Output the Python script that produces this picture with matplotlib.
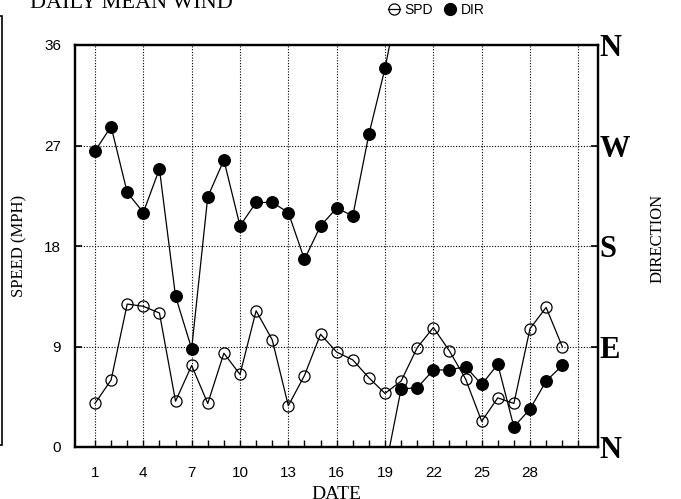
import numpy as np
import matplotlib
matplotlib.use("Agg")
import matplotlib.pyplot as plt
from matplotlib.lines import Line2D
from matplotlib.patches import Rectangle

# ── Dados ─────────────────────────────────────────────────────────────────────
days = list(range(1, 31))
speed_mph = [3.9, 6.0, 12.8, 12.6, 12.0, 4.1, 7.3, 3.9, 8.4, 6.5,
             12.2, 9.6, 3.7, 6.4, 10.1, 8.5, 7.8, 6.2, 4.8, 5.9,
             8.9, 10.7, 8.6, 6.1, 2.3, 4.4, 3.9, 10.6, 12.5, 9.0]
# direção em graus / 10 (0 = N, 9 = E, 18 = S, 27 = W, 36 = N)
direction = [26.5, 28.7, 22.8, 21.0, 24.9, 13.5, 8.8, 22.4, 25.7, 19.8,
             21.9, 21.9, 21.0, 16.8, 19.8, 21.4, 20.7, 28.0, 33.9, 5.2,
             5.3, 6.9, 6.9, 7.2, 5.6, 7.4, 1.8, 3.4, 5.9, 7.3]

xtick_days = [1, 4, 7, 10, 13, 16, 19, 22, 25, 28]
grid_days = xtick_days + [31]
ytick_vals = [0, 9, 18, 27, 36]
dir_labels = ["N", "E", "S", "W", "N"]

W, H = 681, 499
SERIF = "Liberation Serif"
SANS = "Liberation Sans"


def wrapped_path(x, y, period=36.0):
    """Quebra a linha de direção quando cruza N (volta de 360°)."""
    xs, ys = [x[0]], [y[0]]
    for i in range(1, len(x)):
        d = y[i] - y[i - 1]
        if abs(d) > period / 2:
            shift = -period if d > 0 else period
            xs += [x[i], np.nan, x[i - 1]]
            ys += [y[i] + shift, np.nan, y[i - 1] - shift]
        xs.append(x[i])
        ys.append(y[i])
    return xs, ys


fig = plt.figure(figsize=(W / 100, H / 100), dpi=100)
fig.patch.set_facecolor("white")
ax = fig.add_axes([75 / W, 1 - 447 / H, (598 - 75) / W, (447 - 45) / H])

ax.set_xlim(-0.24, 32.22)
ax.set_ylim(0, 36)

# grade pontilhada
for d in grid_days:
    ax.axvline(d, color="black", linestyle=(0, (1, 1.5)), linewidth=0.8, zorder=1)
for v in ytick_vals[1:-1]:
    ax.axhline(v, color="black", linestyle=(0, (1, 1.5)), linewidth=0.8, zorder=1)

# velocidade
ax.plot(days, speed_mph, color="black", linewidth=0.9, zorder=3,
        marker="o", markersize=8, markerfacecolor="none",
        markeredgecolor="black", markeredgewidth=0.9)

# direção (com quebra em N)
xs, ys = wrapped_path(days, direction)
ax.plot(xs, ys, color="black", linewidth=0.9, zorder=4)
ax.plot(days, direction, linestyle="none", marker="o", markersize=8.3,
        color="black", zorder=5)

for s in ax.spines.values():
    s.set_linewidth(1.6)

ax.set_xticks(xtick_days)
ax.set_xticks(range(1, 32), minor=True)
ax.set_yticks(ytick_vals)
ax.tick_params(axis="x", which="both", direction="in", length=5, width=1,
               pad=14, labelsize=11)
ax.tick_params(axis="y", direction="in", length=5, width=1.2, pad=10,
               labelsize=11)
for lab in ax.get_xticklabels() + ax.get_yticklabels():
    lab.set_family(SANS)

ax.set_xlabel("DATE", family=SERIF, fontsize=14, labelpad=4)
ax.set_ylabel("SPEED (MPH)", family=SERIF, fontsize=12, labelpad=12)

# eixo de direção à direita
ax2 = ax.twinx()
ax2.set_ylim(0, 36)
ax2.set_yticks(ytick_vals)
ax2.set_yticklabels(dir_labels, family=SERIF, fontsize=22, fontweight="bold")
ax2.tick_params(axis="y", direction="in", length=5, width=1.2, pad=1)
for s in ax2.spines.values():
    s.set_linewidth(1.6)
fig.text(658 / W, 1 - 238 / H, "DIRECTION", family=SERIF, fontsize=12,
         rotation=90, ha="center", va="center")

# título cortado no topo
fig.text(30 / W, 1 - 8 / H, "DAILY MEAN WIND", family=SERIF, fontsize=16,
         va="baseline", ha="left")

# legenda
handles = [
    Line2D([], [], color="black", linewidth=0.9, marker="o", markersize=8,
           markerfacecolor="none", markeredgewidth=0.9),
    Line2D([], [], color="black", linestyle="none", marker="o", markersize=8.5),
]
fig.legend(handles, ["SPD", "DIR"], loc="center left",
           bbox_to_anchor=(381 / W, 1 - 10 / H), ncol=2, frameon=False,
           handlelength=0.9, handletextpad=0.3, columnspacing=0.8,
           borderpad=0, prop={"family": SANS, "size": 10})

# moldura parcial à esquerda
fig.add_artist(Rectangle((-20 / W, 1 - 445 / H), 22 / W, (445 - 16) / H,
                         transform=fig.transFigure, fill=False,
                         edgecolor="black", linewidth=1.2))

fig.savefig("out.png", dpi=100)
